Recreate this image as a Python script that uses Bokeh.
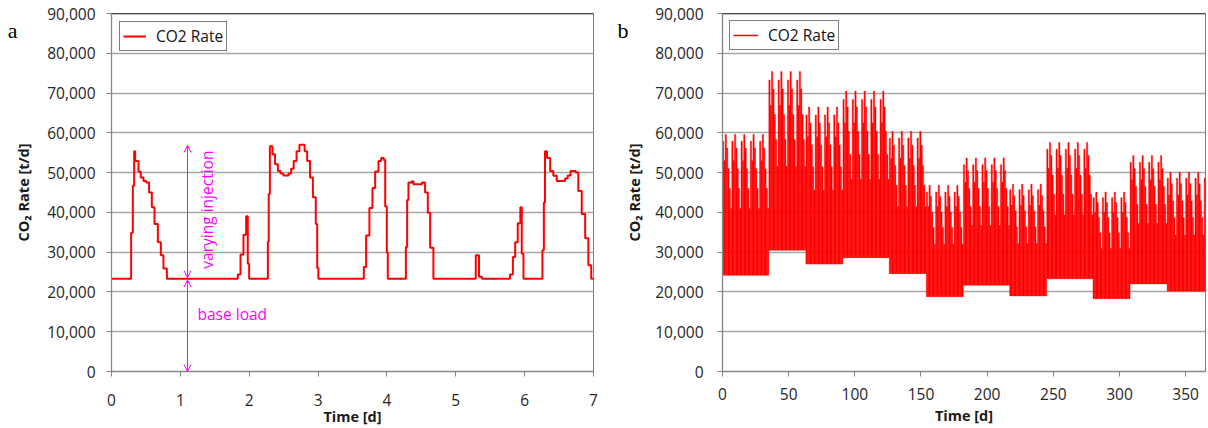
import math
from bokeh.plotting import figure
from bokeh.layouts import row
from bokeh.models import (Range1d, FixedTicker, NumeralTickFormatter, Legend, LegendItem,
                          Arrow, OpenHead, Label, Span, ColumnDataSource, LinearAxis)
from bokeh.embed import file_html
from bokeh.resources import INLINE

FONT = "Open Sans"
RED = "#ff0000"
MAG = "#ff00ff"
GRID = "#a6a6a6"
AXIS = "#868686"
TXT = "#262626"

# ---------------- Panel a: one week, hourly step series ----------------
# breakpoints (hour of week) and CO2 rate [t/d] valid from that hour on
hours_a = [0, 6.85, 7.43, 7.9, 8.25, 9.41, 10.2, 11.15, 12.08, 13.1, 14.06, 14.99, 16.15, 17.2, 18.1, 19.3,
           44.03, 44.96, 46.0, 46.93, 47.5, 47.98,
           54.5, 54.8, 55.2, 56.1, 57.0, 58.0, 58.9, 59.9, 61.7, 62.6, 63.5, 64.5, 65.5, 67.3, 68.2, 69.2,
           70.2, 71.2, 71.7, 72.1,
           87.95, 88.75, 89.9, 90.96, 91.9, 93.05, 93.98, 94.9, 95.4, 95.96, 96.3,
           102.6, 103.05, 103.5, 104.7, 105.25, 108.2, 109.3, 110.25, 111.07, 112.2,
           126.97, 128.1, 129.1,
           138.9, 139.9, 140.7, 141.6, 142.5, 143.0, 143.6,
           150.2, 150.7, 151.1, 151.8, 152.9, 154.0, 155.2, 158.1, 159.0, 160.0, 161.8, 162.7, 163.9,
           165.1, 166.2, 167.2, 168.0]
rate_a = [23300, 34900, 46700, 55400, 52900, 50200, 48800, 47900, 47500, 45000, 41300, 37100, 32500, 29200,
          25900, 23300,
          24400, 29400, 34400, 39000, 27100, 23300,
          32700, 44600, 56600, 54600, 52100, 50400, 49800, 49300, 49800, 51000, 52900, 55400, 57000, 55400,
          52900, 48800, 43800, 37100, 26000, 23300,
          26300, 34200, 41100, 46100, 50300, 52900, 53700, 53200, 41500, 29900, 23300,
          31300, 43100, 47500, 47800, 47100, 47500, 45000, 39900, 31100, 23300,
          29200, 23800, 23300,
          24400, 28800, 32500, 37300, 41300, 29600, 23300,
          30500, 42500, 55400, 53700, 50400, 49200, 47900, 48500, 49300, 50400, 50000, 45400, 39600,
          33500, 26700, 23300, 23300]
days_a = [h / 24.0 for h in hours_a]

# ---------------- Panel b: one year ----------------
period_start = [0, 35, 63, 91, 126, 154, 182, 217, 245, 280, 308, 336]
period_base = [24200, 30500, 27000, 28600, 24600, 18800, 21700, 19000, 23300, 18300, 22000, 20200]
# daily peak rate for each day of the week, per period
week_peaks = [
    [57900, 53000, 59600, 56200, 51000, 46000, 41000],
    [73300, 66900, 75400, 71000, 64600, 58300, 51600],
    [64500, 59000, 66500, 62500, 57000, 51500, 45600],
    [68400, 62500, 70500, 66500, 60400, 54600, 48300],
    [58700, 53600, 60400, 56900, 51800, 46800, 41400],
    [45100, 41500, 46800, 44000, 40100, 36200, 32000],
    [52000, 47600, 53700, 50500, 46000, 41500, 36700],
    [45700, 41800, 47100, 44200, 40400, 36400, 32200],
    [55900, 51100, 57600, 54300, 49400, 44600, 39400],
    [43700, 40000, 45100, 42500, 38700, 34900, 30900],
    [52600, 48200, 54300, 51000, 46600, 42000, 37200],
    [48600, 44400, 50100, 47200, 42900, 38700, 34300],
]
year_days = 365

day_x, day_top, day_bottom = [], [], []
for i, s in enumerate(period_start):
    e = period_start[i + 1] if i + 1 < len(period_start) else year_days
    for d in range(s, e):
        day_x.append(d + 0.5)
        day_top.append(week_peaks[i][d % 7])
        day_bottom.append(period_base[i])

y_ticks = list(range(0, 90001, 10000))
panel_letters = ["a", "b"]
letter_y = 85700


def style(p, x_ticks, xl_standoff, xt_standoff, yl_standoff, yt_standoff):
    p.background_fill_color = "white"
    p.border_fill_color = "white"
    p.outline_line_color = "#7f7f7f"
    p.outline_line_width = 1
    p.xgrid.visible = False
    p.ygrid.grid_line_color = GRID
    p.ygrid.grid_line_width = 1.3
    p.xaxis.ticker = FixedTicker(ticks=x_ticks, minor_ticks=[])
    p.yaxis.ticker = FixedTicker(ticks=y_ticks, minor_ticks=[])
    p.yaxis.formatter = NumeralTickFormatter(format="0,0")
    for ax in (p.xaxis[0], p.yaxis[0]):
        ax.axis_line_color = AXIS
        ax.axis_line_width = 1.3
        ax.major_tick_line_color = AXIS
        ax.major_tick_out = 5
        ax.major_tick_in = 0
        ax.minor_tick_out = 0
        ax.minor_tick_in = 0
        ax.major_label_text_font = FONT
        ax.major_label_text_font_size = "15.5px"
        ax.major_label_text_color = TXT
        ax.axis_label_text_font = FONT
        ax.axis_label_text_font_size = "14.5px"
        ax.axis_label_text_font_style = "bold"
        ax.axis_label_text_color = "#1a1a1a"
    p.xaxis.axis_label = "Time [d]"
    p.yaxis.axis_label = "CO\u2082 Rate [t/d]"
    p.xaxis.major_label_standoff = xt_standoff
    p.xaxis.axis_label_standoff = xl_standoff
    p.yaxis.major_label_standoff = yt_standoff
    p.yaxis.axis_label_standoff = yl_standoff
    p.add_layout(Span(location=90000, dimension="width", line_color="#111111", line_width=1.5))


def add_letter(p, letter, standoff):
    # panel letter, drawn as the single label of an outer, line-less left axis
    ax = LinearAxis(ticker=FixedTicker(ticks=[letter_y], minor_ticks=[]),
                    major_label_overrides={letter_y: letter})
    ax.axis_line_color = None
    ax.major_tick_line_color = None
    ax.minor_tick_line_color = None
    ax.major_tick_out = 0
    ax.major_tick_in = 0
    ax.major_label_standoff = standoff
    ax.major_label_text_font = "Liberation Serif"
    ax.major_label_text_font_size = "22px"
    ax.major_label_text_color = "black"
    p.add_layout(ax, "left")


def add_legend(p, r, glyph_w, margin):
    leg = Legend(items=[LegendItem(label="CO2 Rate", renderers=[r])], location="top_left")
    leg.margin = margin
    leg.padding = 3
    leg.spacing = 0
    leg.glyph_width = glyph_w
    leg.glyph_height = 14
    leg.label_height = 14
    leg.label_standoff = 10
    leg.label_text_font = FONT
    leg.label_text_font_size = "15.5px"
    leg.label_text_color = "#111111"
    leg.border_line_color = "black"
    leg.border_line_width = 1
    leg.background_fill_alpha = 1
    p.add_layout(leg, "center")


# ---------------- figure a ----------------
pa = figure(width=600, height=428, output_backend="svg", toolbar_location=None,
            x_range=Range1d(0, 7), y_range=Range1d(0, 90000),
            min_border_left=111, min_border_right=7, min_border_top=13, min_border_bottom=57)
style(pa, list(range(0, 8)), xl_standoff=-2, xt_standoff=17, yl_standoff=11, yt_standoff=11)
ra = pa.step(x=days_a, y=rate_a, mode="after", line_color=RED, line_width=2)
add_legend(pa, ra, 23, 8)
add_letter(pa, panel_letters[0], -6)

arrow_x = 1.104
base_load = rate_a[0]
pa.add_layout(Arrow(start=OpenHead(size=7, line_color=MAG, line_width=1),
                    end=OpenHead(size=7, line_color=MAG, line_width=1),
                    x_start=arrow_x, y_start=base_load + 300, x_end=arrow_x, y_end=56800,
                    line_color=MAG, line_width=1))
pa.add_layout(Arrow(start=OpenHead(size=7, line_color=MAG, line_width=1),
                    end=OpenHead(size=7, line_color=MAG, line_width=1),
                    x_start=arrow_x, y_start=base_load - 300, x_end=arrow_x, y_end=0,
                    line_color=MAG, line_width=1))
pa.add_layout(Label(x=1.394, y=40700, text="varying injection", angle=math.pi / 2,
                    text_align="center", text_baseline="middle", text_font=FONT,
                    text_font_size="15.5px", text_color=MAG))
pa.add_layout(Label(x=1.249, y=14500, text="base load", text_align="left",
                    text_baseline="middle", text_font=FONT, text_font_size="15.5px",
                    text_color=MAG))

# ---------------- figure b ----------------
pb = figure(width=608, height=428, output_backend="svg", toolbar_location=None,
            x_range=Range1d(0, 365), y_range=Range1d(0, 90000),
            min_border_left=122, min_border_right=3, min_border_top=13, min_border_bottom=57)
style(pb, list(range(0, 351, 50)), xl_standoff=3, xt_standoff=11, yl_standoff=8, yt_standoff=14)
src_b = ColumnDataSource(dict(x=day_x, top=day_top, bottom=day_bottom))
pb.vbar(x="x", width=1.0, top="top", bottom="bottom", source=src_b,
        fill_color=RED, line_color=RED, line_width=0.4)
rb = pb.line(x=day_x[:1], y=day_bottom[:1], line_color=RED, line_width=1.5)
add_legend(pb, rb, 25, 7)
add_letter(pb, panel_letters[1], -6)

layout = row(pa, pb)
open("out.html", "w").write(file_html(layout, INLINE))
